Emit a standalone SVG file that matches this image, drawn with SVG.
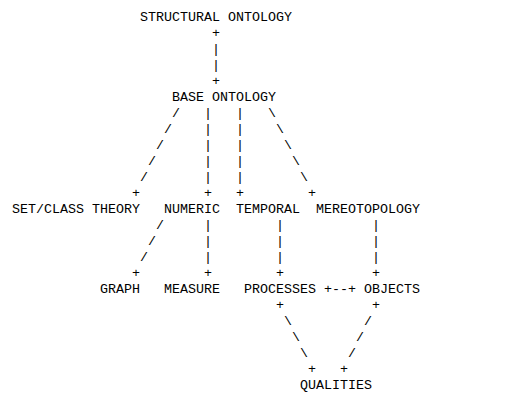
<svg xmlns="http://www.w3.org/2000/svg" width="521" height="401" viewBox="0 0 521 401">
<style>
text { font-family: "Liberation Mono", "Courier New", "DejaVu Sans Mono", monospace; font-size: 13.333px; fill: #000; white-space: pre; }
</style>
<rect width="521" height="401" fill="#fff"/>
<g id="connectors">
<text x="212" y="37">+</text>
<text x="212" y="53">|</text>
<text x="212" y="69">|</text>
<text x="212" y="85">+</text>
<text x="172" y="117">/</text><text x="204" y="117">|</text><text x="236" y="117">|</text><text x="268" y="117">\</text>
<text x="164" y="133">/</text><text x="204" y="133">|</text><text x="236" y="133">|</text><text x="276" y="133">\</text>
<text x="156" y="149">/</text><text x="204" y="149">|</text><text x="236" y="149">|</text><text x="284" y="149">\</text>
<text x="148" y="165">/</text><text x="204" y="165">|</text><text x="236" y="165">|</text><text x="292" y="165">\</text>
<text x="140" y="181">/</text><text x="204" y="181">|</text><text x="236" y="181">|</text><text x="300" y="181">\</text>
<text x="132" y="197">+</text><text x="204" y="197">+</text><text x="236" y="197">+</text><text x="308" y="197">+</text>
<text x="156" y="229">/</text><text x="204" y="229">|</text><text x="276" y="229">|</text><text x="372" y="229">|</text>
<text x="148" y="245">/</text><text x="204" y="245">|</text><text x="276" y="245">|</text><text x="372" y="245">|</text>
<text x="140" y="261">/</text><text x="204" y="261">|</text><text x="276" y="261">|</text><text x="372" y="261">|</text>
<text x="132" y="277">+</text><text x="204" y="277">+</text><text x="276" y="277">+</text><text x="372" y="277">+</text>
<text x="324" y="293">+--+</text>
<text x="276" y="309">+</text><text x="372" y="309">+</text>
<text x="284" y="325">\</text><text x="364" y="325">/</text>
<text x="292" y="341">\</text><text x="356" y="341">/</text>
<text x="300" y="357">\</text><text x="348" y="357">/</text>
<text x="308" y="373">+</text><text x="340" y="373">+</text>
</g>
<g id="structural-ontology"><text x="140" y="21">STRUCTURAL ONTOLOGY</text></g>
<g id="base-ontology"><text x="172" y="101">BASE ONTOLOGY</text></g>
<g id="set-class-theory"><text x="12" y="213">SET/CLASS THEORY</text></g>
<g id="numeric"><text x="164" y="213">NUMERIC</text></g>
<g id="temporal"><text x="236" y="213">TEMPORAL</text></g>
<g id="mereotopology"><text x="316" y="213">MEREOTOPOLOGY</text></g>
<g id="graph"><text x="100" y="293">GRAPH</text></g>
<g id="measure"><text x="164" y="293">MEASURE</text></g>
<g id="processes"><text x="244" y="293">PROCESSES</text></g>
<g id="objects"><text x="364" y="293">OBJECTS</text></g>
<g id="qualities"><text x="300" y="389">QUALITIES</text></g>
</svg>
